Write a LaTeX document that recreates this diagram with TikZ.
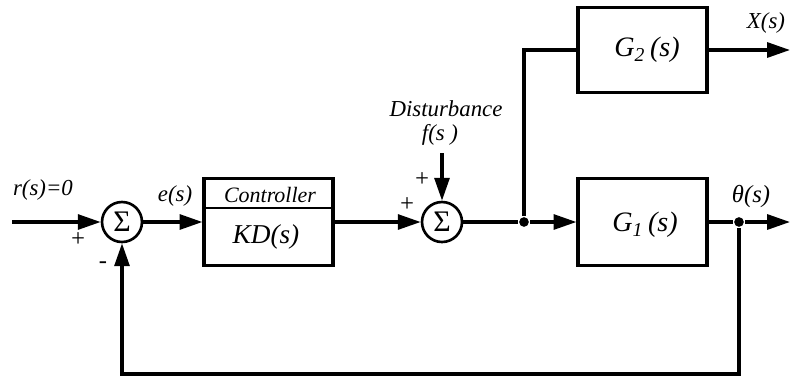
\documentclass[tikz,border=0pt]{standalone}
\usepackage{fontspec}
\newfontfamily\tnr{LiberationSerif}[Extension=.ttf,UprightFont=*-Regular,ItalicFont=*-Italic,BoldFont=*-Bold]
\usetikzlibrary{arrows.meta,calc}

\begin{document}
\begin{tikzpicture}[x=0.02cm,y=-0.02cm,line width=1.8pt,
    >={Triangle[length=13pt,width=8.5pt]},
    blk/.style={draw,line width=1.8pt,minimum width=2.58cm,minimum height=1.74cm,inner sep=0pt},
    sumnode/.style={draw,circle,line width=1.5pt,minimum size=0.8cm,inner sep=0pt,font=\tnr\fontsize{17}{19}\selectfont},
    lbl/.style={font=\tnr\fontsize{13}{15}\selectfont\itshape,inner sep=0pt},
    big/.style={font=\tnr\fontsize{16}{18}\selectfont\itshape,inner sep=0pt},
    sgn/.style={font=\tnr\fontsize{14}{16}\selectfont\itshape,inner sep=0pt},
    dot/.style={circle,fill,inner sep=0pt,minimum size=5.5pt}]
  \useasboundingbox (0,0) rectangle (790,376);
  % blocks
  \node[sumnode] (sum1) at (122,222) {Σ};
  \node[blk] (ctrl) at (268.5,222) {};
  \node[sumnode] (sum2) at (442,222) {Σ};
  \node[blk] (g1) at (642.5,222) {};
  \node[blk,minimum height=1.7cm] (g2) at (642.5,50) {};
  \node[dot] (j1) at (524,222) {};
  \node[dot] (j2) at (739,222) {};
  \coordinate (in) at (12,222);
  \coordinate (dist) at (442,153);
  \coordinate (xout) at (790,50);
  \coordinate (thout) at (790,222);
  \coordinate (fbl) at (122,374);
  % controller box inside
  \draw[line width=1pt] ($(ctrl.north west)!0.345!(ctrl.south west)$) -- ($(ctrl.north east)!0.345!(ctrl.south east)$);
  \node[lbl,font=\tnr\fontsize{12.5}{15}\selectfont\itshape] (ctrltxt) at (270,195) {Controller};
  \node[lbl,font=\tnr\fontsize{15.5}{18}\selectfont\itshape] (kd) at (266,237) {KD(s)};
  \node[big] (g1txt) at (645,225) {G\textsubscript{1}\,(s)};
  \node[big] (g2txt) at (647,50) {G\textsubscript{2}\,(s)};
  % labels
  \node[lbl] (rlbl) at (43,190) {r(s)=0};
  \node[lbl] (elbl) at (175,196) {e(s)};
  \node[lbl] (dlbl) at (446,109) {Disturbance};
  \node[lbl] (flbl) at (440,135) {f(s )};
  \node[lbl] (xlbl) at (766,23) {X(s)};
  \node[lbl,font=\tnr\fontsize{14}{16}\selectfont\itshape] (thlbl) at (751,197) {θ(s)};
  \node[sgn] (p1) at (78,240) {+};
  \node[sgn] (m1) at (103,265) {-};
  \node[sgn] (p2) at (407,205) {+};
  \node[sgn] (p3) at (422,180) {+};
  % connectors
  \draw[->] (in) -- (sum1);
  \draw[->] (sum1) -- (ctrl);
  \draw[->] (ctrl) -- (sum2);
  \draw[->] (dist) -- (sum2);
  \draw (sum2) -- (j1);
  \draw[->] (j1) -- (g1);
  \draw (j1) |- (g2);
  \draw[->] (g2) -- (xout);
  \draw (g1) -- (j2);
  \draw[->] (j2) -- (thout);
  \draw[->] (j2) |- (fbl) -- (sum1);
\end{tikzpicture}
\end{document}
